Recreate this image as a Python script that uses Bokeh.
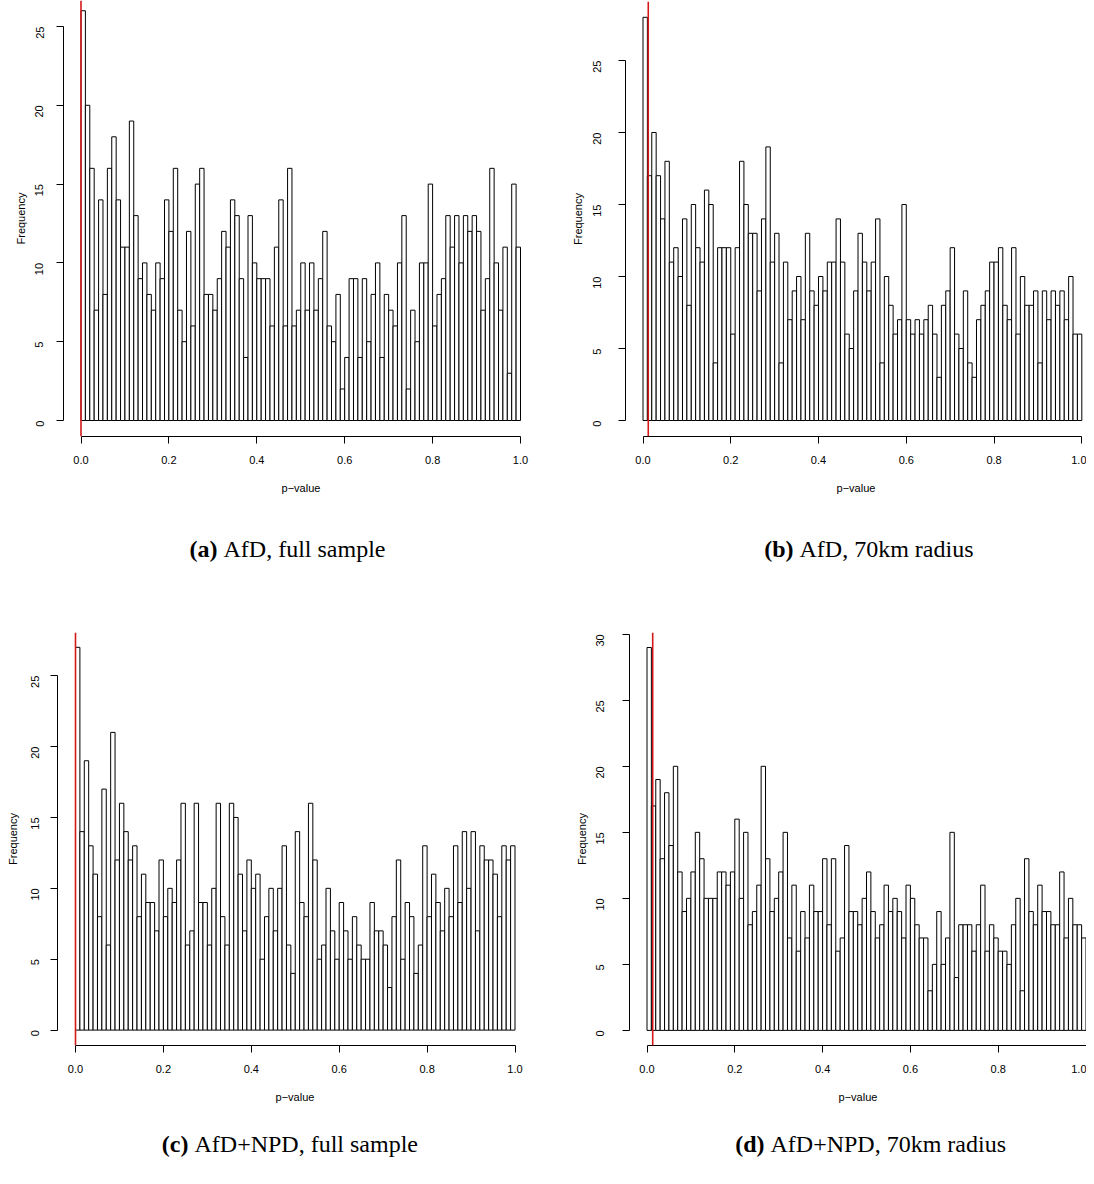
import math
import numpy as np
from bokeh.plotting import figure
from bokeh.models import Range1d, FixedTicker, PrintfTickFormatter, Span
from bokeh.core.properties import value
from bokeh.layouts import column, row
from bokeh.embed import file_html
from bokeh.resources import INLINE

# ---------------- data (counts per 0.01-wide p-value bin) ----------------
counts_a = [26, 20, 16, 7, 14, 8, 16, 18, 14, 11, 11, 19, 13, 9, 10, 8, 7, 10, 9, 14,
            12, 16, 7, 5, 12, 6, 15, 16, 8, 8, 7, 9, 12, 11, 14, 13, 9, 4, 13, 10,
            9, 9, 9, 6, 11, 14, 6, 16, 6, 7, 10, 7, 10, 7, 9, 12, 6, 5, 8, 2,
            4, 9, 9, 4, 9, 5, 8, 10, 4, 8, 7, 6, 10, 13, 2, 7, 5, 10, 10, 15,
            6, 8, 9, 13, 11, 13, 10, 13, 12, 13, 12, 7, 9, 16, 10, 7, 11, 3, 15, 11]
counts_b = [28, 17, 20, 17, 14, 18, 11, 12, 10, 14, 8, 15, 12, 11, 16, 15, 4, 12, 12, 12,
            6, 12, 18, 15, 13, 13, 9, 14, 19, 11, 13, 4, 11, 7, 9, 10, 7, 13, 9, 8,
            10, 9, 11, 11, 14, 11, 6, 5, 9, 13, 11, 9, 11, 14, 4, 10, 8, 6, 7, 15,
            7, 6, 7, 6, 7, 8, 6, 3, 8, 9, 12, 6, 5, 9, 4, 3, 7, 8, 9, 11,
            11, 12, 8, 7, 12, 6, 10, 8, 8, 9, 4, 9, 7, 9, 8, 9, 7, 10, 6, 6]
counts_c = [27, 14, 19, 13, 11, 8, 17, 6, 21, 12, 16, 14, 12, 13, 8, 11, 9, 9, 7, 12,
            8, 10, 9, 12, 16, 6, 7, 16, 9, 9, 6, 10, 16, 8, 6, 16, 15, 11, 7, 12,
            10, 11, 5, 8, 10, 7, 10, 13, 6, 4, 14, 9, 8, 16, 12, 5, 6, 10, 7, 5,
            9, 7, 5, 8, 6, 5, 5, 9, 7, 7, 6, 3, 8, 12, 5, 9, 8, 4, 6, 13,
            8, 11, 9, 7, 10, 8, 13, 9, 14, 10, 14, 7, 13, 12, 12, 11, 8, 13, 12, 13]
counts_d = [29, 17, 19, 13, 18, 14, 20, 12, 9, 10, 12, 15, 13, 10, 10, 10, 12, 12, 11, 12,
            16, 10, 15, 8, 9, 11, 20, 13, 9, 10, 12, 15, 7, 11, 6, 9, 7, 11, 9, 9,
            13, 8, 13, 6, 7, 14, 9, 9, 8, 10, 12, 9, 7, 8, 11, 9, 10, 9, 7, 11,
            10, 8, 7, 7, 3, 5, 9, 5, 7, 15, 4, 8, 8, 8, 6, 8, 11, 6, 8, 7,
            6, 6, 5, 8, 10, 3, 13, 9, 8, 11, 9, 9, 8, 8, 12, 7, 10, 8, 8, 7]

cutoffs = [0.0, 0.012, 0.0, 0.013]          # red reference lines
x_ticks = [0.0, 0.2, 0.4, 0.6, 0.8, 1.0]
y_ticks_25 = [0, 5, 10, 15, 20, 25]
y_ticks_30 = [0, 5, 10, 15, 20, 25, 30]
caption_tags = ["(a)", "(b)", "(c)", "(d)"]
caption_texts = ["AfD, full sample", "AfD, 70km radius",
                 "AfD+NPD, full sample", "AfD+NPD, 70km radius"]

breaks = np.linspace(0.0, 1.0, len(counts_a) + 1)

# ---------------- layout geometry (pixels, origin = top-left of layout) ----------------
geo = [
    dict(box=(0, 0, 548, 510), cap_h=80, x0=80.5, x1=520.0, y0=420.0, ypu=15.76,
         split=217, cap_y=548, ls=17, als=2),
    dict(box=(548, 0, 538, 510), cap_h=80, x0=642.5, x1=1081.3, y0=420.0, ypu=14.40,
         split=793, cap_y=548, ls=22, als=2),
    dict(box=(0, 590, 548, 515), cap_h=71, x0=75.0, x1=514.5, y0=1052.7, ypu=15.0,
         split=188, cap_y=1143, ls=15, als=6),
    dict(box=(548, 590, 538, 515), cap_h=71, x0=646.5, x1=1085.5, y0=1053.0, ypu=13.97,
         split=764, cap_y=1143, ls=22, als=2),
]

all_counts = [counts_a, counts_b, counts_c, counts_d]
cols = []
for i, (cnt, g) in enumerate(zip(all_counts, geo)):
    fl, ft, fw, fh = g["box"]
    xpu = g["x1"] - g["x0"]
    ymax = max(cnt)
    frame_left = g["x0"] - 0.04 * xpu
    frame_right = min(g["x1"] + 0.04 * xpu, fl + fw)
    frame_bottom = g["y0"] + 0.04 * ymax * g["ypu"]
    frame_top = max(g["y0"] - 1.04 * ymax * g["ypu"], ft)
    bl = int(round(frame_left - fl))
    br = int(round(fl + fw - frame_right))
    bt = int(round(frame_top - ft))
    bb = int(round(ft + fh - frame_bottom))
    fx0 = fl + bl
    fx1 = fl + fw - br
    fy0 = ft + bt
    fy1 = ft + fh - bb
    xr = Range1d((fx0 - g["x0"]) / xpu, (fx1 - g["x0"]) / xpu)
    yr = Range1d((g["y0"] - fy1) / g["ypu"], (g["y0"] - fy0) / g["ypu"])

    p = figure(width=fw, height=fh, x_range=xr, y_range=yr,
               output_backend="svg", toolbar_location=None,
               min_border_left=bl, min_border_right=br,
               min_border_top=bt, min_border_bottom=bb,
               background_fill_color="white", border_fill_color="white")
    p.outline_line_color = None
    p.xgrid.visible = False
    p.ygrid.visible = False

    p.quad(left=breaks[:-1], right=breaks[1:], bottom=0, top=cnt,
           fill_color="white", line_color="black", line_width=1)

    p.add_layout(Span(location=cutoffs[i], dimension="height",
                      line_color="#d41818", line_width=1.6))

    yt = y_ticks_30 if ymax >= 29 else y_ticks_25
    for ax in (p.xaxis[0], p.yaxis[0]):
        ax.axis_line_color = "black"
        ax.axis_line_width = 1
        ax.major_tick_line_color = "black"
        ax.major_tick_out = 7
        ax.major_tick_in = 0
        ax.minor_tick_line_color = None
        ax.major_label_text_font = "Liberation Sans"
        ax.major_label_text_font_size = "11px"
        ax.major_label_text_color = "black"
        ax.axis_label_text_font = "Liberation Sans"
        ax.axis_label_text_font_size = "11px"
        ax.axis_label_text_font_style = "normal"
        ax.axis_label_text_color = "black"

    p.xaxis.ticker = FixedTicker(ticks=x_ticks)
    p.xaxis.formatter = PrintfTickFormatter(format="%.1f")
    p.xaxis.bounds = (x_ticks[0], x_ticks[-1])
    p.xaxis.axis_label = "p\u2212value"
    p.xaxis.major_label_standoff = 12
    p.xaxis.axis_label_standoff = 15

    p.yaxis.ticker = FixedTicker(ticks=yt)
    p.yaxis.bounds = (yt[0], yt[-1])
    p.yaxis.axis_label = "Frequency"
    p.yaxis.major_label_orientation = math.pi / 2
    p.yaxis.major_label_standoff = g["ls"]
    p.yaxis.axis_label_standoff = g["als"]

    # caption strip below the histogram (shares the x scale of the histogram)
    ch = g["cap_h"]
    cap = figure(width=fw, height=ch, x_range=p.x_range, y_range=Range1d(0, ch),
                 output_backend="svg", toolbar_location=None,
                 x_axis_type=None, y_axis_type=None,
                 min_border_left=bl, min_border_right=br, min_border_top=0,
                 min_border_bottom=0,
                 background_fill_color="white", border_fill_color="white")
    cap.outline_line_color = None
    cy = (ft + fh + ch) - g["cap_y"]
    sx = (g["split"] - g["x0"]) / xpu
    gap = 6 / xpu
    cap.text(x=[sx], y=[cy], text=[caption_tags[i]], text_align="right",
             text_baseline="middle", text_font=value("Liberation Serif"),
             text_font_style="bold", text_font_size="24px", text_color="black")
    cap.text(x=[sx + gap], y=[cy], text=[caption_texts[i]], text_align="left",
             text_baseline="middle", text_font=value("Liberation Serif"),
             text_font_size="24px", text_color="black")
    cols.append(column(p, cap))

layout = column(row(cols[0], cols[1]), row(cols[2], cols[3]))
open("out.html", "w").write(file_html(layout, INLINE))
